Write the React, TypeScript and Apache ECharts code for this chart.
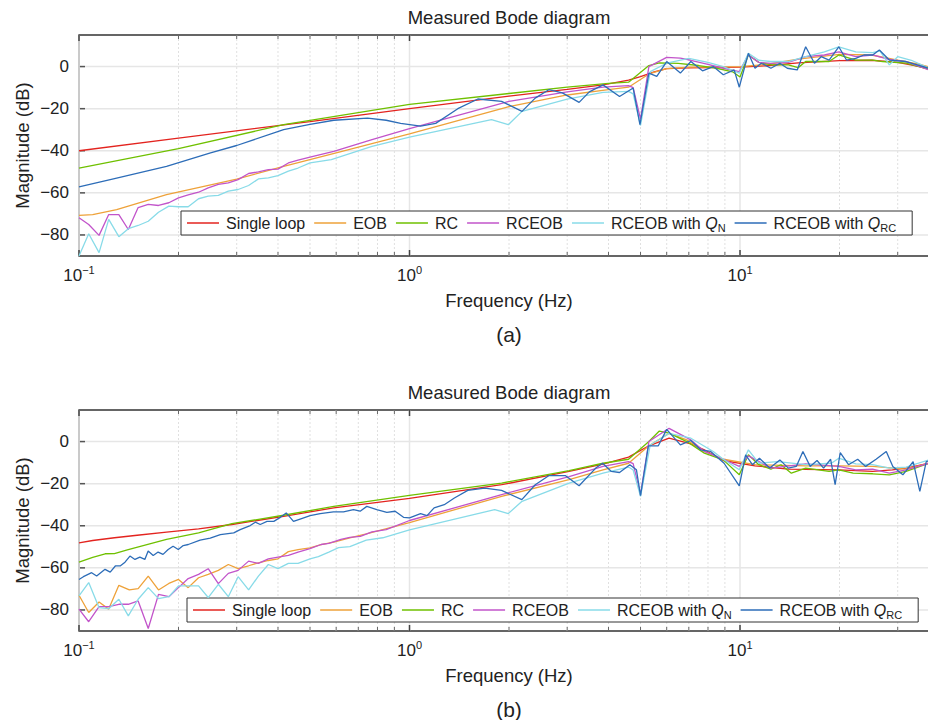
import React, { useEffect, useRef } from "react";
import * as echarts from "echarts";

type P = [number, number][];
const FONT = '"Liberation Sans", Arial, Helvetica, sans-serif';
const TXT = "#222";

const SERIES_NAMES = ["Single loop", "EOB", "RC", "RCEOB", "RCEOB with QN", "RCEOB with QRC"];
const COLORS = ["#e3241f", "#eea23a", "#6fc000", "#c254ca", "#88dbe8", "#2d6db8"];
const TITLES = ["Measured Bode diagram", "Measured Bode diagram"];
const PANEL_LABELS = ["(a)", "(b)"];
const X_NAME = "Frequency (Hz)";
const Y_NAME = "Magnitude (dB)";
const Y_TICKS = [0, -20, -40, -60, -80];
const X_DECADES = [0.1, 1, 10];
const X_MINOR = [0.2, 0.3, 0.4, 0.5, 0.6, 0.7, 0.8, 0.9, 2, 3, 4, 5, 6, 7, 8, 9, 20, 30];
const X_MIN = 0.1;
const X_MAX = 40;
const Y_MIN = -90;
const Y_MAX = 15;

// ---------- Panel (a) ----------
const A_SINGLE: P = [[0.1,-40],[0.2,-34],[0.5,-26.2],[1,-20],[2,-14],[3,-10.8],[3.85,-8.7],[4.6,-6.4],[5,-4.8],[5.5,-2.5],[6,-1],[7,-0.6],[8,-0.5],[10,-0.3],[12,0.4],[15,1.8],[20,2.8],[25,3],[30,2],[35,0],[40,-2.5]];
const A_EOB: P = [[0.1,-70.7],[0.11,-70.3],[0.13,-68],[0.184,-60.8],[0.3,-53.5],[0.416,-47.4],[0.6,-41],[1,-32],[2,-19],[3,-13.5],[4,-11],[4.6,-9.8],[5.3,-3.5],[6,-1],[7,-0.3],[10,0],[12,1],[15,3.5],[20,5.8],[25,5.5],[30,3],[35,1],[40,-1.5]];
const A_RC: P = [[0.1,-48.2],[0.2,-39],[0.416,-27.6],[1,-18],[2,-12.8],[3,-9.8],[4,-8],[4.6,-7.4],[5.3,0.5],[5.7,1.8],[6.5,1.5],[7.5,0.5],[8.5,-0.8],[9.5,-2.5],[10,-5],[10.6,5.5],[11.4,2],[12.5,0.8],[14,0.8],[15,-0.5],[15.8,2.4],[18.6,2.4],[19.9,5.5],[22.4,3.1],[25.2,3.1],[27,2.4],[31.8,1.6],[37.3,-1.3],[40,-2.5]];
const A_RCEOB: P = [[0.1,-71.8],[0.107,-75],[0.115,-80.2],[0.123,-70.3],[0.132,-70.3],[0.141,-77.4],[0.151,-67],[0.162,-65.5],[0.174,-66],[0.187,-64.7],[0.2,-62.4],[0.214,-61],[0.23,-59.7],[0.246,-57.6],[0.264,-56],[0.283,-55.3],[0.303,-53.7],[0.326,-50.8],[0.349,-50],[0.374,-49],[0.4,-48.7],[0.43,-45.8],[0.46,-44.5],[0.5,-43],[0.59,-40.3],[0.77,-34.7],[1,-29.5],[2,-16.5],[3,-12],[3.85,-9.8],[4.6,-9.1],[4.75,-10],[5,-25],[5.3,0],[6,4.4],[6.6,4],[7.1,3],[8,1],[8.9,-0.8],[9.95,-2.4],[10.6,5.5],[11.4,2],[12.4,1.5],[14,2],[15.8,4.7],[18,5.5],[19.9,7],[22.4,4.7],[25.2,5.5],[28,3.5],[31.8,2.4],[37.3,-1.6],[40,-2.5]];
const A_QN: P = [[0.1,-90],[0.107,-79.4],[0.115,-88.4],[0.123,-72.6],[0.132,-80.8],[0.141,-77],[0.151,-75.5],[0.162,-73.5],[0.174,-69.2],[0.187,-66.3],[0.2,-66.6],[0.214,-66.6],[0.23,-62.8],[0.246,-61.6],[0.264,-61.2],[0.283,-59.2],[0.303,-58.4],[0.326,-56.5],[0.349,-53.4],[0.374,-52.9],[0.4,-51.8],[0.43,-49.7],[0.46,-48.2],[0.5,-45.8],[0.58,-44.2],[0.77,-37.9],[1,-33.5],[1.77,-25.2],[1.99,-27.6],[2.19,-21.3],[3,-15.5],[3.85,-12.3],[4.6,-11.8],[4.75,-13],[5,-28],[5.35,-2.4],[6,1.6],[7,3.9],[8,2],[8.9,0],[9.95,-3.1],[10.6,6.3],[11.4,3],[12.4,2.4],[14,2.4],[15.8,4.7],[18,7],[19.9,9.4],[22.4,7],[25.2,6.6],[26.5,7.5],[28.3,0.8],[30,4.7],[33,3],[37.3,-0.8],[40,-2]];
const A_QRC: P = [[0.1,-57.2],[0.13,-53],[0.184,-47.4],[0.25,-41],[0.3,-37.5],[0.416,-30],[0.5,-27.5],[0.59,-25.5],[0.746,-24.5],[0.85,-25.5],[0.94,-27],[1.08,-28.3],[1.2,-27],[1.4,-20],[1.61,-15.4],[1.9,-16.5],[2.19,-21.3],[2.4,-15],[2.64,-11],[2.9,-12.5],[3.26,-17],[3.5,-12],[3.85,-8.7],[4.32,-14.2],[4.75,-10.2],[4.98,-27.6],[5.3,-3.1],[5.6,-4.7],[6,2.4],[6.6,-3.1],[7.1,2.4],[7.7,-2],[8.3,0],[8.9,-3.9],[9.6,-1.6],[9.95,-9.8],[10.6,6.3],[11.1,-0.8],[11.6,1.6],[12.4,-0.8],[13.2,1.6],[13.9,-0.8],[14.9,-1.6],[15.8,9.4],[16.8,1.6],[17.6,4.7],[18.6,3.1],[19.9,9.4],[21,3.1],[22.4,3.9],[23.7,5.5],[25.2,5.5],[26.4,7.9],[28.3,3.1],[31.8,2.4],[37.3,-0.8],[40,-2]];

// ---------- Panel (b) ----------
const B_SINGLE: P = [[0.1,-48.1],[0.11,-47],[0.128,-45.7],[0.15,-44.5],[0.184,-43],[0.23,-41.5],[0.29,-39.4],[0.416,-35.5],[0.59,-31.5],[1,-27],[1.9,-20.5],[3.04,-14.2],[3.85,-10.7],[4.6,-7.4],[5.3,-2],[6.1,1.6],[7.1,-1.1],[7.8,-3.9],[8.9,-9],[11.1,-11.5],[14,-13.1],[19.9,-13.4],[25.2,-14.2],[28.9,-13.4],[31.8,-12.6],[37.3,-10.3],[40,-9]];
const B_EOB: P = [[0.1,-73],[0.107,-81.2],[0.115,-76.2],[0.123,-79.6],[0.132,-68.3],[0.142,-70.5],[0.151,-69.9],[0.162,-63.9],[0.174,-70.5],[0.187,-67.4],[0.2,-65.5],[0.214,-69.4],[0.23,-64.7],[0.246,-63.1],[0.264,-61.2],[0.283,-58.4],[0.303,-60.4],[0.326,-59],[0.349,-57.6],[0.374,-56.5],[0.4,-55.7],[0.43,-52.3],[0.46,-51.3],[0.5,-50.5],[0.54,-49],[0.59,-47.8],[0.66,-45.7],[0.74,-43.8],[0.83,-41.8],[1,-38.5],[1.9,-26],[3.04,-18.1],[3.85,-13.4],[4.6,-10.3],[5.3,-2],[6.1,3.9],[6.9,0.8],[7.8,-4.7],[8.9,-8.4],[11.1,-11],[15.8,-11.5],[19.9,-11.5],[25.2,-11.8],[31.8,-13.1],[37.3,-10.3],[40,-9]];
const B_RC: P = [[0.1,-57.3],[0.11,-55],[0.12,-53.3],[0.128,-53.2],[0.14,-51.5],[0.184,-46.5],[0.23,-43.4],[0.29,-39],[0.416,-35],[0.59,-30.8],[1,-25.6],[1.9,-19.7],[3.04,-13.8],[3.85,-10.3],[4.6,-8.4],[5.3,0],[5.7,5],[6.1,4],[6.9,0],[7.8,-5.5],[8.9,-8.7],[9.95,-15.8],[10.6,-6.3],[11.4,-11],[12.4,-13.1],[13.3,-11],[14.3,-15],[15.8,-12.6],[18.6,-14.2],[19.9,-13.4],[22,-15],[25.2,-15.3],[28.3,-15.8],[31.8,-14.2],[37.3,-10.3],[40,-9]];
const B_RCEOB: P = [[0.1,-79.6],[0.107,-85.6],[0.115,-78.4],[0.123,-78.4],[0.132,-77.3],[0.141,-77.3],[0.151,-75.7],[0.162,-88.8],[0.174,-72.6],[0.187,-73.7],[0.2,-69.4],[0.214,-65.1],[0.23,-63.1],[0.246,-60.4],[0.264,-67.5],[0.283,-62.6],[0.303,-61.2],[0.326,-56.8],[0.349,-57.9],[0.374,-55.7],[0.4,-54.9],[0.43,-54.1],[0.46,-52.5],[0.5,-50.9],[0.54,-48.9],[0.57,-48.4],[0.62,-46.5],[0.66,-45.5],[0.71,-45],[0.77,-42.9],[0.85,-41.8],[1,-37.5],[1.9,-25.2],[3.04,-16.6],[3.85,-11.8],[4.6,-9.5],[4.75,-10.5],[5,-25.2],[5.3,0],[6.1,6.3],[7.1,0.8],[7.8,-4.7],[8.9,-8.4],[9.95,-11.8],[10.6,-6.8],[12.4,-12.6],[15.8,-10.6],[19.9,-11.8],[22.4,-13.4],[25.2,-13.1],[28.3,-15],[31.8,-13.4],[37.3,-10.3],[40,-9]];
const B_QN: P = [[0.1,-73.3],[0.107,-67],[0.115,-78.9],[0.123,-79.4],[0.132,-74.9],[0.141,-82.8],[0.151,-74.9],[0.162,-69.4],[0.174,-74.6],[0.187,-73.7],[0.2,-68.6],[0.214,-68.6],[0.23,-68.6],[0.246,-74.1],[0.264,-67.8],[0.283,-73.7],[0.303,-64.2],[0.326,-70.5],[0.349,-63.9],[0.374,-58.4],[0.4,-60.4],[0.43,-57.9],[0.46,-57.9],[0.5,-55.7],[0.53,-54.7],[0.57,-52.5],[0.61,-50.4],[0.66,-49.9],[0.74,-46.8],[0.83,-45.7],[1,-42],[1.81,-32.3],[1.99,-34.2],[2.19,-28.4],[3.04,-19.7],[3.85,-15],[4.6,-12.1],[4.75,-13.5],[5,-26],[5.35,-1.6],[6.1,3.9],[7.1,1.6],[8.3,-4.7],[8.9,-8.4],[9.95,-13.4],[10.6,-3.9],[11.4,-10.3],[13,-9.5],[15.8,-11],[18.9,-10.3],[19.9,-7.9],[22.4,-10.6],[25.2,-11],[28.3,-12.6],[31.8,-12.1],[37.3,-8.7],[40,-8]];
const B_QRC: P = [[0.1,-65.5],[0.1031,-64.2],[0.1092,-62.3],[0.1131,-63.9],[0.1199,-60.7],[0.1243,-62],[0.1288,-59.1],[0.1332,-59.1],[0.1378,-57.3],[0.1426,-54.4],[0.1477,-56],[0.1528,-54.9],[0.1582,-56],[0.1619,-52],[0.1677,-54.1],[0.1735,-52.5],[0.1796,-53.6],[0.1861,-51.3],[0.1926,-49.7],[0.1997,-51.3],[0.2067,-49.4],[0.2141,-48.9],[0.2325,-46.8],[0.2495,-45.9],[0.2677,-44.2],[0.2939,-43.4],[0.3074,-41.8],[0.3297,-39.9],[0.3415,-38.3],[0.3535,-39.4],[0.3705,-37.9],[0.3885,-37.9],[0.4066,-36],[0.4237,-33.9],[0.4456,-37.9],[0.4667,-36.8],[0.5004,-35.2],[0.5367,-34.2],[0.5886,-33.4],[0.6314,-33.4],[0.6768,-32.3],[0.7091,-33.1],[0.7427,-30.8],[0.7963,-32.3],[0.8539,-33.6],[0.9049,-33.1],[0.9591,-36],[1.0,-36.3],[1.08,-34.2],[1.13,-35.2],[1.187,-31.5],[1.274,-30],[1.367,-26.8],[1.501,-23.2],[1.689,-22.1],[1.899,-23.2],[2.187,-27.6],[2.401,-20.5],[2.637,-16.2],[2.966,-16.2],[3.259,-21],[3.66,-12.6],[3.84,-10.3],[4.08,-14.2],[4.32,-14.7],[4.64,-11],[4.86,-13.4],[5.0,-25.7],[5.28,-2],[5.66,-2],[6.0,5.8],[6.6,-1.6],[7.1,0.5],[7.6,-3.9],[8.15,-4.7],[8.95,-10.3],[9.95,-21],[10.4,-6.3],[10.9,-11],[11.45,-7.9],[12.3,-12.6],[13.2,-8.7],[14,-12.6],[14.8,-11.8],[15.5,-4.7],[16.3,-11.8],[17.1,-9],[17.9,-12.6],[18.8,-8.4],[19.4,-20.5],[20.1,-5.2],[21.3,-11],[22.7,-8.4],[24,-11.8],[25.8,-8.4],[27.7,-4.7],[29,-11.8],[31.1,-15.8],[33.4,-9.5],[35,-23.7],[36.6,-9.5],[40,-8]];

const PANELS: P[][] = [
  [A_SINGLE, A_EOB, A_RC, A_RCEOB, A_QN, A_QRC],
  [B_SINGLE, B_EOB, B_RC, B_RCEOB, B_QN, B_QRC],
];

// layout (pixels)
const GRID_TOPS = [35, 410];
const GRID_LEFT = 79;
const GRID_W = 860;
const GRID_H = 221;
const LEGEND_POS = [[181, 211], [187, 598]];

const lg = (f: number) => Math.log10(f);

function gridItems(): number[][] {
  const items: number[][] = [];
  Y_TICKS.forEach((v) => items.push([lg(X_MIN), v, 0]));
  X_DECADES.forEach((f) => items.push([lg(f), Y_MIN, 1]));
  X_MINOR.forEach((f) => items.push([lg(f), Y_MIN, 2]));
  return items;
}

function renderGrid(params: any, api: any) {
  const cs = params.coordSys;
  const kind = api.value(2);
  const p = api.coord([api.value(0), api.value(1)]);
  const left = cs.x, top = cs.y, right = cs.x + cs.width, bottom = cs.y + cs.height;
  if (kind === 0) {
    const y = p[1];
    return {
      type: "group",
      children: [
        { type: "line", shape: { x1: left, y1: y, x2: right, y2: y }, style: { stroke: "#e6e6e6", lineWidth: 1.5 } },
        { type: "line", shape: { x1: left, y1: y, x2: left + 6, y2: y }, style: { stroke: "#555", lineWidth: 1.5 } },
      ],
    };
  }
  const x = p[0];
  const major = kind === 1;
  const tl = major ? 6 : 4;
  const tickStyle = { stroke: major ? "#444" : "#666", lineWidth: major ? 1.5 : 1 };
  return {
    type: "group",
    children: [
      {
        type: "line",
        shape: { x1: x, y1: top, x2: x, y2: bottom },
        style: major ? { stroke: "#e6e6e6", lineWidth: 1.5 } : { stroke: "#e0e0e0", lineWidth: 1, lineDash: [2, 2] },
      },
      { type: "line", shape: { x1: x, y1: bottom, x2: x, y2: bottom - tl }, style: tickStyle },
      { type: "line", shape: { x1: x, y1: top, x2: x, y2: top + tl }, style: tickStyle },
    ],
  };
}

const legendFmt = (name: string) => {
  if (name === "RCEOB with QN") return "RCEOB with {q|Q}{n|N}";
  if (name === "RCEOB with QRC") return "RCEOB with {q|Q}{n|RC}";
  return name;
};

function buildOption() {
  const grids = GRID_TOPS.map((t) => ({
    left: GRID_LEFT, top: t, width: GRID_W, height: GRID_H,
    show: true, borderColor: "#333", borderWidth: 1.3, backgroundColor: "transparent",
    containLabel: false, outerBoundsMode: "none",
  }));
  const xAxes = GRID_TOPS.map((_, i) => ({
    type: "value", gridIndex: i, min: lg(X_MIN), max: lg(X_MAX), interval: 1,
    axisLine: { show: false }, axisTick: { show: false }, splitLine: { show: false },
    axisLabel: {
      margin: 8, color: TXT,
      formatter: (v: number) => {
        const r = Math.round(v);
        if (Math.abs(v - r) > 1e-6 || v > 1.0001) return "";
        return `{b|10}{s|${r < 0 ? "\u2212" + -r : r}}`;
      },
      rich: {
        b: { fontSize: 17, fontFamily: FONT, color: TXT, lineHeight: 22 },
        s: { fontSize: 11, fontFamily: FONT, color: TXT, lineHeight: 16, verticalAlign: "top" },
      },
    },
  }));
  const yAxes = GRID_TOPS.map((_, i) => ({
    type: "value", gridIndex: i, min: Y_MIN, max: Y_MAX, interval: 10,
    axisLine: { show: false }, axisTick: { show: false }, splitLine: { show: false },
    axisLabel: {
      margin: 10, color: TXT, fontSize: 17, fontFamily: FONT,
      formatter: (v: number) => {
        const r = Math.round(v);
        if (r % 20 !== 0 || r > 0 || r < -80) return "";
        return r < 0 ? "\u2212" + -r : "0";
      },
    },
  }));
  const series: any[] = [];
  PANELS.forEach((panel, i) => {
    series.push({
      type: "custom", xAxisIndex: i, yAxisIndex: i, silent: true, z: 1,
      renderItem: renderGrid, data: gridItems(), clip: false,
    });
    panel.forEach((pts, k) => {
      series.push({
        type: "line", name: SERIES_NAMES[k], xAxisIndex: i, yAxisIndex: i,
        data: pts.map(([f, v]) => [lg(f), v]),
        symbol: "none", showSymbol: false, smooth: false, z: 2 + k,
        color: COLORS[k],
        lineStyle: { width: 1.3, color: COLORS[k] },
        itemStyle: { color: COLORS[k] },
      });
    });
  });
  const legends = LEGEND_POS.map(([l, t]) => ({
    data: SERIES_NAMES.map((n) => ({ name: n, icon: "rect" })),
    left: l, top: t, orient: "horizontal",
    icon: "rect",
    itemWidth: 32, itemHeight: 1.5, itemGap: 9,
    padding: [2, 16, 2, 6],
    borderColor: "#333", borderWidth: 1, backgroundColor: "#fff",
    selectedMode: false,
    formatter: legendFmt,
    textStyle: {
      fontFamily: FONT, fontSize: 16, color: TXT, lineHeight: 20, padding: [0, 0, 0, 2],
      rich: {
        q: { fontFamily: FONT, fontSize: 16, fontStyle: "italic", color: TXT, lineHeight: 20 },
        n: { fontFamily: FONT, fontSize: 11, color: TXT, lineHeight: 10, verticalAlign: "bottom" },
      },
    },
  }));
  const cx = GRID_LEFT + GRID_W / 2;
  const graphics: any[] = [];
  GRID_TOPS.forEach((t, i) => {
    const off = t - GRID_TOPS[0];
    graphics.push({ type: "text", x: cx, y: 17 + off, style: { text: TITLES[i], fontFamily: FONT, fontSize: 18.5, fill: TXT, align: "center", verticalAlign: "middle" } });
    graphics.push({ type: "text", x: cx, y: 300 + off, style: { text: X_NAME, fontFamily: FONT, fontSize: 18.5, fill: TXT, align: "center", verticalAlign: "middle" } });
    graphics.push({ type: "text", x: cx, y: 334 + off, style: { text: PANEL_LABELS[i], fontFamily: FONT, fontSize: 21, fill: TXT, align: "center", verticalAlign: "middle" } });
    graphics.push({ type: "text", x: 22, y: t + GRID_H / 2, rotation: Math.PI / 2, style: { text: Y_NAME, fontFamily: FONT, fontSize: 18.5, fill: TXT, align: "center", verticalAlign: "middle" } });
  });
  return {
    animation: false,
    backgroundColor: "#fff",
    textStyle: { fontFamily: FONT },
    grid: grids, xAxis: xAxes, yAxis: yAxes, legend: legends, series, graphic: graphics,
  };
}

export default function App() {
  const ref = useRef<HTMLDivElement>(null);
  useEffect(() => {
    if (!ref.current) return;
    const chart = echarts.init(ref.current, undefined, { renderer: "svg" });
    chart.setOption(buildOption() as any);
    return () => chart.dispose();
  }, []);
  return (
    <div style={{ position: "fixed", left: 0, top: 0, width: 928, height: 720, overflow: "hidden", background: "#fff" }}>
      <div ref={ref} style={{ width: 950, height: 720 }} />
    </div>
  );
}
